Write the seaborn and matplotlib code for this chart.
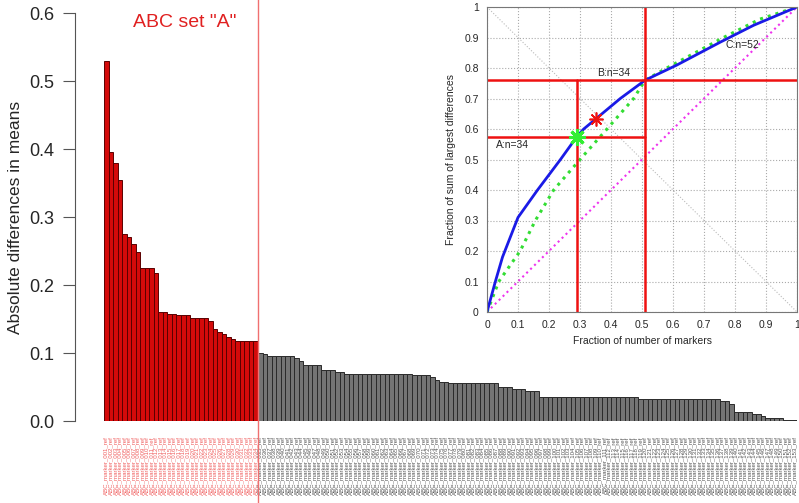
import numpy as np
import pandas as pd
import matplotlib
matplotlib.use("Agg")
import matplotlib.pyplot as plt
import seaborn as sns

# bar heights, set A (red) then the remaining markers (grey)
red_vals = [0.530, 0.396, 0.379, 0.355, 0.275, 0.271, 0.261, 0.2485,
            0.2245, 0.2245, 0.2245, 0.217, 0.161, 0.161, 0.157, 0.157,
            0.156, 0.156, 0.156, 0.152, 0.152, 0.152, 0.152, 0.147,
            0.135, 0.131, 0.128, 0.123, 0.120, 0.117, 0.117, 0.117,
            0.117, 0.117]
gray_vals = [0.100, 0.098,
             0.096, 0.096, 0.096, 0.096, 0.096, 0.096,
             0.092, 0.088,
             0.082, 0.082, 0.082, 0.082,
             0.0745, 0.0745, 0.0745,
             0.072, 0.072,
             0.0696, 0.0696, 0.0696, 0.0696, 0.0696, 0.0696, 0.0696, 0.0696,
             0.0696, 0.0696, 0.0696, 0.0696, 0.0696, 0.0696, 0.0696,
             0.067, 0.067, 0.067, 0.067,
             0.065, 0.060, 0.058, 0.058,
             0.0554, 0.0554, 0.0554, 0.0554, 0.0554, 0.0554, 0.0554, 0.0554,
             0.0554, 0.0554, 0.0554,
             0.0505, 0.0505, 0.0505,
             0.047, 0.047, 0.047,
             0.044, 0.044, 0.044,
             0.036, 0.036, 0.036, 0.036, 0.036, 0.036, 0.036, 0.036, 0.036,
             0.036, 0.036, 0.036, 0.036, 0.036, 0.036, 0.036, 0.036, 0.036,
             0.036, 0.036, 0.036, 0.036,
             0.0324, 0.0324, 0.0324, 0.0324, 0.0324, 0.0324, 0.0324, 0.0324,
             0.0324, 0.0324, 0.0324, 0.0324, 0.0324, 0.0324, 0.0324, 0.0324,
             0.0324, 0.0324,
             0.030, 0.030, 0.025,
             0.0128, 0.0128, 0.0128, 0.0128,
             0.0103, 0.0103, 0.0074,
             0.0044, 0.0044, 0.0044, 0.0044,
             0.002, 0.002, 0.002]
n_red = len(red_vals)
n_all = n_red + len(gray_vals)
marker_names = [f"ABC_marker_{i + 1:03d}_ref" for i in range(n_all)]
y_ticks = [0.0, 0.1, 0.2, 0.3, 0.4, 0.5, 0.6]

# inset curves
blue_x = [0, 0.027, 0.05, 0.10, 0.163, 0.237, 0.29, 0.312, 0.43, 0.51, 0.613, 0.753, 0.86, 1.0]
blue_y = [0, 0.10, 0.18, 0.31, 0.40, 0.50, 0.575, 0.60, 0.70, 0.76, 0.81, 0.885, 0.94, 1.0]
green_x = [0, 0.038, 0.107, 0.156, 0.215, 0.30, 0.387, 0.473, 0.51, 0.58, 0.763, 0.88, 1.0]
green_y = [0, 0.10, 0.20, 0.30, 0.40, 0.50, 0.60, 0.70, 0.76, 0.80, 0.90, 0.96, 1.0]
inset_ticks = [0, 0.1, 0.2, 0.3, 0.4, 0.5, 0.6, 0.7, 0.8, 0.9, 1]
inset_ticklabels = ["0", "0.1", "0.2", "0.3", "0.4", "0.5", "0.6", "0.7", "0.8", "0.9", "1"]
a_point = (0.29, 0.575)
b_point = (0.51, 0.76)
red_star = (0.35, 0.632)

sns.set_style("white")
plt.rcParams["font.family"] = ["Liberation Sans", "DejaVu Sans"]

df = pd.DataFrame({
    "marker": marker_names,
    "diff": red_vals + gray_vals,
    "set": ["A"] * n_red + ["rest"] * len(gray_vals),
})

fig = plt.figure(figsize=(7.99, 5.03), dpi=100)
ax = fig.add_axes([104 / 799, 82 / 503, 693 / 799, 408 / 503])

sns.barplot(data=df, x="marker", y="diff", hue="set",
            palette={"A": "#d40a0a", "rest": "#747474"},
            dodge=False, width=1, saturation=1, legend=False, ax=ax)
for p in ax.patches:
    fc = p.get_facecolor()
    p.set_edgecolor("#5a0000" if fc[0] > 0.6 else "#2a2a2a")
    p.set_linewidth(0.7)

ax.set_xlim(-0.5, n_all - 0.5)
ax.set_ylim(0, 0.6)
for s in ["top", "right", "bottom"]:
    ax.spines[s].set_visible(False)
ax.spines["left"].set_position(("outward", 21))
ax.spines["left"].set_color("#555555")
ax.set_yticks(y_ticks)
ax.set_yticklabels([f"{v:.1f}" for v in y_ticks], fontsize=13)
ax.tick_params(axis="y", length=9, width=0.8, color="#555555", pad=6, left=True)
ax.set_ylabel("Absolute differences in means", fontsize=12.5, labelpad=4)
ax.set_xlabel("")

ax.set_xticks(range(n_all))
ax.set_xticklabels(marker_names, rotation=90, fontsize=4.4)
ax.tick_params(axis="x", length=0, pad=11)
for i, lbl in enumerate(ax.get_xticklabels()):
    lbl.set_color("#f06060" if i < n_red else "#555555")

ax.axvline(n_red - 0.5, ymin=-0.201, ymax=1.035, color="#f07070",
           lw=1.0, clip_on=False)
ax.text(17.3, 0.586, 'ABC set "A"', color="#e02020", fontsize=14,
        ha="center", va="center")

# inset
ax2 = fig.add_axes([487 / 799, 191 / 503, 310 / 799, 305 / 503])
ax2.set_facecolor("white")
ax2.grid(True, linestyle=":", color="#aaaaaa", lw=0.8)
ax2.plot([0, 1], [1, 0], linestyle=":", color="#bbbbbb", lw=0.8)
ax2.plot([0, 1], [0, 1], linestyle=":", color="#ee33ee", lw=1.5)
sns.lineplot(x=green_x, y=green_y, ax=ax2, color="#33dd33", lw=2.2,
             linestyle=":", sort=False)
sns.lineplot(x=blue_x, y=blue_y, ax=ax2, color="#1a1ae6", lw=2, sort=False)
ax2.plot([0, 1], [b_point[1], b_point[1]], color="#ee1111", lw=1.8)
ax2.plot([0, b_point[0]], [a_point[1], a_point[1]], color="#ee1111", lw=1.8)
ax2.plot([a_point[0], a_point[0]], [0, b_point[1]], color="#ee1111", lw=1.8)
ax2.plot([b_point[0], b_point[0]], [0, 1], color="#ee1111", lw=1.8)
ax2.plot(*a_point, marker=(8, 2, 0), markersize=12, mew=2.2, color="#33ee33")
ax2.plot(*red_star, marker=(8, 2, 0), markersize=10, mew=1.2, color="#ee1111")
ax2.text(0.03, 0.546, "A:n=34", fontsize=7.5, va="center")
ax2.text(0.355, 0.785, "B:n=34", fontsize=7.5, va="center")
ax2.text(0.77, 0.875, "C:n=52", fontsize=7.5, va="center")

ax2.set_xlim(0, 1)
ax2.set_ylim(0, 1)
ax2.set_xticks(inset_ticks)
ax2.set_xticklabels(inset_ticklabels, fontsize=7.5)
ax2.set_yticks(inset_ticks)
ax2.set_yticklabels(inset_ticklabels, fontsize=7.5)
ax2.tick_params(direction="in", length=2.5, width=0.6, color="#777777", pad=6)
for s in ax2.spines.values():
    s.set_color("#777777")
    s.set_linewidth(0.8)
ax2.set_xlabel("Fraction of number of markers", fontsize=7.5, labelpad=4)
ax2.set_ylabel("Fraction of sum of largest differences", fontsize=7.5, labelpad=6)

fig.savefig("out.png", dpi=100)
